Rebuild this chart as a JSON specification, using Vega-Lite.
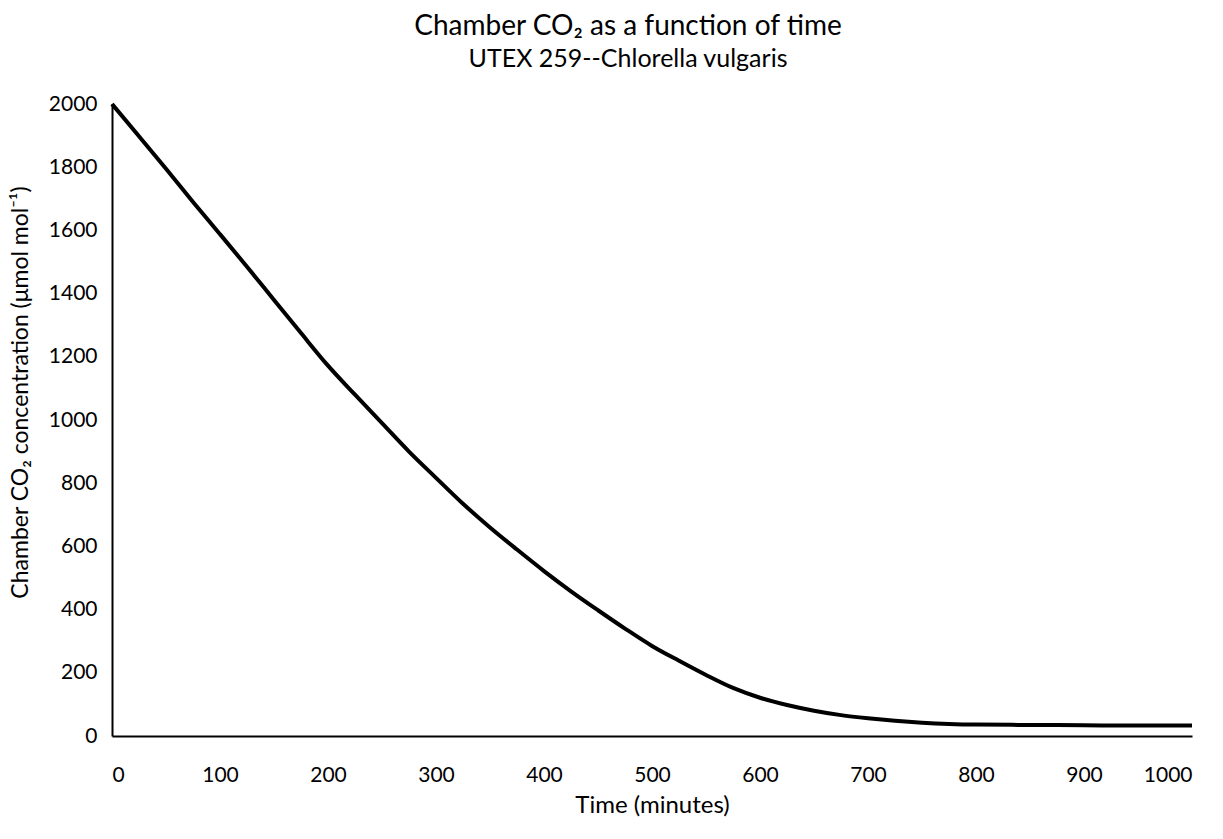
{
  "$schema": "https://vega.github.io/schema/vega-lite/v6.json",
  "autosize": "none",
  "width": 1080,
  "height": 632,
  "padding": {"left": 112, "top": 104, "right": 31, "bottom": 103},
  "background": "white",
  "title": {
    "text": "Chamber CO₂ as a function of time",
    "subtitle": "UTEX 259--Chlorella vulgaris",
    "anchor": "middle",
    "dx": -24,
    "offset": 21,
    "font": "Lato",
    "fontSize": 28,
    "fontWeight": "normal",
    "color": "black",
    "subtitleFont": "Lato",
    "subtitleFontSize": 25,
    "subtitleColor": "black",
    "subtitlePadding": 6
  },
  "config": {
    "view": {"stroke": null},
    "axis": {
      "labelFont": "Lato",
      "titleFont": "Lato",
      "labelColor": "black",
      "titleColor": "black",
      "labelFontSize": 21,
      "titleFontSize": 24,
      "titleFontWeight": "normal",
      "domainColor": "black",
      "domainWidth": 2,
      "ticks": false,
      "grid": false,
      "format": "d"
    }
  },
  "data": {
    "values": [
      {"time": 0, "co2": 2000},
      {"time": 25, "co2": 1898},
      {"time": 50, "co2": 1795},
      {"time": 75, "co2": 1690},
      {"time": 100, "co2": 1588},
      {"time": 125, "co2": 1485},
      {"time": 150, "co2": 1380},
      {"time": 175, "co2": 1275},
      {"time": 200, "co2": 1172},
      {"time": 225, "co2": 1080},
      {"time": 250, "co2": 990},
      {"time": 275, "co2": 900},
      {"time": 300, "co2": 817},
      {"time": 325, "co2": 735},
      {"time": 350, "co2": 660},
      {"time": 375, "co2": 590},
      {"time": 400, "co2": 522},
      {"time": 425, "co2": 458},
      {"time": 450, "co2": 398},
      {"time": 475, "co2": 340},
      {"time": 500, "co2": 285},
      {"time": 525, "co2": 238},
      {"time": 550, "co2": 193},
      {"time": 575, "co2": 152},
      {"time": 600, "co2": 121},
      {"time": 625, "co2": 98},
      {"time": 650, "co2": 80},
      {"time": 675, "co2": 66},
      {"time": 700, "co2": 56},
      {"time": 725, "co2": 48},
      {"time": 750, "co2": 42},
      {"time": 775, "co2": 38},
      {"time": 800, "co2": 36},
      {"time": 850, "co2": 35},
      {"time": 900, "co2": 34},
      {"time": 950, "co2": 33},
      {"time": 1000, "co2": 33}
    ]
  },
  "mark": {"type": "line", "color": "black", "strokeWidth": 4, "interpolate": "monotone"},
  "encoding": {
    "x": {
      "field": "time",
      "type": "quantitative",
      "scale": {"domain": [0, 1000], "nice": false},
      "axis": {"title": "Time (minutes)", "values": [0, 100, 200, 300, 400, 500, 600, 700, 800, 900, 1000], "labelPadding": 28, "titlePadding": 8}
    },
    "y": {
      "field": "co2",
      "type": "quantitative",
      "scale": {"domain": [0, 2000], "nice": false},
      "axis": {"title": "Chamber CO₂ concentration (μmol mol⁻¹)", "titleFontSize": 23, "titleY": 288, "values": [0, 200, 400, 600, 800, 1000, 1200, 1400, 1600, 1800, 2000], "labelPadding": 15, "titlePadding": 16}
    }
  }
}
